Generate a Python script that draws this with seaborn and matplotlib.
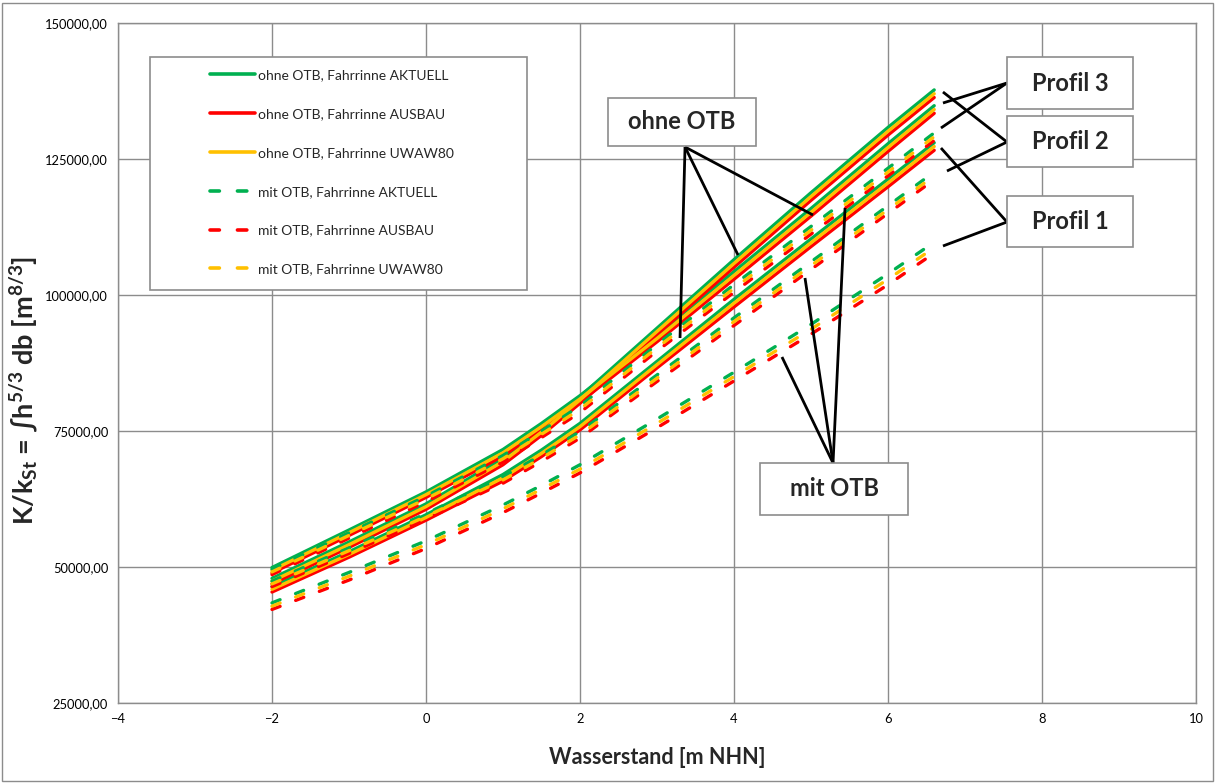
import matplotlib
matplotlib.use("Agg")
import matplotlib.pyplot as plt
import matplotlib.patches as mpatches
from matplotlib.lines import Line2D
from matplotlib.ticker import FuncFormatter, MultipleLocator
import seaborn as sns
import pandas as pd

# ---------------- data ----------------
wasserstand = [-2, -1, 0, 1, 1.5, 2, 3, 4, 5, 6, 6.6]

# Profil 1
p1_ohne_aktuell = [46.4, 52.8, 59.6, 67.0, 71.5, 76.4, 87.8, 99.2, 110.3, 121.3, 128.0]
p1_ohne_ausbau  = [45.4, 51.8, 58.6, 65.8, 70.3, 75.2, 86.6, 97.8, 108.9, 119.9, 126.6]
p1_ohne_uwaw80  = [45.9, 52.3, 59.1, 66.4, 70.9, 75.8, 87.2, 98.5, 109.6, 120.6, 127.3]
p1_mit_aktuell  = [43.4, 49.0, 54.8, 61.4, 65.0, 68.8, 77.2, 85.8, 94.6, 103.9, 109.7]
p1_mit_ausbau   = [42.2, 47.6, 53.4, 60.0, 63.6, 67.3, 75.6, 84.2, 92.8, 101.9, 107.7]
p1_mit_uwaw80   = [42.8, 48.3, 54.1, 60.7, 64.3, 68.0, 76.4, 85.0, 93.7, 102.9, 108.7]
# Profil 2
p2_ohne_aktuell = [47.9, 54.6, 61.6, 70.0, 75.4, 81.3, 93.9, 106.5, 118.8, 130.8, 137.7]
p2_ohne_ausbau  = [46.9, 53.6, 60.6, 68.8, 74.2, 80.1, 92.7, 105.1, 117.4, 129.4, 136.3]
p2_ohne_uwaw80  = [47.4, 54.1, 61.1, 69.4, 74.8, 80.7, 93.3, 105.8, 118.1, 130.1, 137.0]
p2_mit_aktuell  = [47.4, 53.5, 59.8, 66.6, 70.6, 74.9, 85.3, 95.8, 106.1, 116.4, 122.6]
p2_mit_ausbau   = [46.4, 52.5, 58.8, 65.4, 69.4, 73.7, 84.1, 94.4, 104.7, 115.0, 121.2]
p2_mit_uwaw80   = [46.9, 53.0, 59.3, 66.0, 70.0, 74.3, 84.7, 95.1, 105.4, 115.7, 121.9]
# Profil 3
p3_ohne_aktuell = [49.9, 56.8, 63.8, 71.6, 76.4, 81.5, 92.6, 104.3, 115.9, 127.8, 134.8]
p3_ohne_ausbau  = [48.9, 55.8, 62.8, 70.4, 75.2, 80.3, 91.4, 102.9, 114.5, 126.4, 133.4]
p3_ohne_uwaw80  = [49.4, 56.3, 63.3, 71.0, 75.8, 80.9, 92.0, 103.6, 115.2, 127.1, 134.1]
p3_mit_aktuell  = [49.6, 56.3, 63.0, 70.5, 75.0, 79.6, 90.9, 101.9, 112.6, 123.3, 129.8]
p3_mit_ausbau   = [48.6, 55.3, 62.0, 69.3, 73.8, 78.4, 89.7, 100.5, 111.2, 121.9, 128.4]
p3_mit_uwaw80   = [49.1, 55.8, 62.5, 69.9, 74.4, 79.0, 90.3, 101.2, 111.9, 122.6, 129.1]

legend_labels = ["ohne OTB, Fahrrinne AKTUELL", "ohne OTB, Fahrrinne AUSBAU",
                 "ohne OTB, Fahrrinne UWAW80", "mit OTB, Fahrrinne AKTUELL",
                 "mit OTB, Fahrrinne AUSBAU", "mit OTB, Fahrrinne UWAW80"]
profile_names = ["Profil 1", "Profil 2", "Profil 3"]
series = [
    (legend_labels[0], [p1_ohne_aktuell, p2_ohne_aktuell, p3_ohne_aktuell]),
    (legend_labels[1], [p1_ohne_ausbau, p2_ohne_ausbau, p3_ohne_ausbau]),
    (legend_labels[2], [p1_ohne_uwaw80, p2_ohne_uwaw80, p3_ohne_uwaw80]),
    (legend_labels[3], [p1_mit_aktuell, p2_mit_aktuell, p3_mit_aktuell]),
    (legend_labels[4], [p1_mit_ausbau, p2_mit_ausbau, p3_mit_ausbau]),
    (legend_labels[5], [p1_mit_uwaw80, p2_mit_uwaw80, p3_mit_uwaw80]),
]

rows = []
for label, profs in series:
    for pname, vals in zip(profile_names, profs):
        for xv, yv in zip(wasserstand, vals):
            rows.append({"serie": label, "profil": pname, "x": xv, "y": yv * 1000})
df = pd.DataFrame(rows)

# ---------------- style ----------------
sns.set_theme(style="white")
plt.rcParams["font.family"] = ["Lato", "DejaVu Sans"]
plt.rcParams["mathtext.fontset"] = "custom"
plt.rcParams["mathtext.rm"] = "Lato"
plt.rcParams["mathtext.bf"] = "Lato:bold"
plt.rcParams["mathtext.it"] = "Lato:italic"

GREEN, RED, YELLOW = "#00B050", "#FF0000", "#FFC000"
colors = [GREEN, RED, YELLOW, GREEN, RED, YELLOW]
dash = (0, (2.6, 5.0))
styles = ["-", "-", "-", dash, dash, dash]
GRID = "#8C8C8C"

fig = plt.figure(figsize=(12.16, 7.83), dpi=100)
ax = fig.add_axes([118 / 1216, 1 - 703 / 783, 1078 / 1216, 680 / 783])

for (label, _), c, ls in zip(series, colors, styles):
    sub = df[df["serie"] == label]
    sns.lineplot(data=sub, x="x", y="y", units="profil", estimator=None,
                 sort=False, color=c, linestyle=ls, linewidth=2.4,
                 solid_capstyle="round", dash_capstyle="round", ax=ax,
                 legend=False, zorder=3)

ax.set_xlim(-4, 10)
ax.set_ylim(25000, 150000)
ax.xaxis.set_major_locator(MultipleLocator(2))
ax.yaxis.set_major_locator(MultipleLocator(25000))
ax.yaxis.set_major_formatter(FuncFormatter(lambda v, p: f"{v:.2f}".replace(".", ",")))
ax.grid(True, color=GRID, linewidth=1.0, zorder=0)
ax.set_axisbelow(True)
for s in ax.spines.values():
    s.set_color(GRID)
    s.set_linewidth(1.0)
ax.tick_params(axis="both", labelsize=9.3, colors="black", length=0, pad=7)

ax.set_xlabel("Wasserstand [m NHN]", fontsize=15.5, fontweight="bold", labelpad=16)
ax.set_ylabel(r"K/k$_\mathbf{St}$ = ∫h$^\mathbf{5/3}$ db [m$^\mathbf{8/3}$]",
              fontsize=19.5, fontweight="bold")
ax.yaxis.set_label_coords(-0.072, 0.46)

# legend box and legend
ax.add_patch(mpatches.Rectangle((0.0297, 0.607), 0.35, 0.343, transform=ax.transAxes,
                                facecolor="white", edgecolor=GRID, linewidth=1.2, zorder=5))
handles = [Line2D([0], [0], color=c, linestyle=ls, linewidth=2.6,
                  solid_capstyle="round", dash_capstyle="round")
           for c, ls in zip(colors, styles)]
leg = ax.legend(handles, legend_labels, loc="upper left", bbox_to_anchor=(0.085, 0.932),
                frameon=False, fontsize=10, handlelength=3.25, handletextpad=0.2,
                labelspacing=1.93, borderaxespad=0, borderpad=0)
leg.set_zorder(6)

# annotation boxes and pointer lines (data coordinates)
def box(x0, x1, y0, y1, text):
    ax.add_patch(mpatches.Rectangle((x0, y0), x1 - x0, y1 - y0, facecolor="white",
                                    edgecolor=GRID, linewidth=1.2, zorder=7))
    ax.text((x0 + x1) / 2, (y0 + y1) / 2, text, ha="center", va="center",
            fontsize=17, fontweight="bold", zorder=8)

def pointer(start, end):
    ax.plot([start[0], end[0]], [start[1], end[1]], color="black", linewidth=2.0,
            zorder=6, solid_capstyle="butt")

# ohne OTB
box(2.364, 4.286, 127390, 136213, "ohne OTB")
for tgt in [(3.299, 92096), (4.052, 107353), (5.026, 114706)]:
    pointer((3.364, 127206), tgt)
# mit OTB
box(4.338, 6.260, 59559, 69118, "mit OTB")
for tgt in [(4.623, 88604), (4.922, 103126), (5.442, 115993)]:
    pointer((5.286, 69118), tgt)
# Profile
box(7.545, 9.182, 134191, 143750, "Profil 3")
box(7.545, 9.182, 123529, 132904, "Profil 2")
box(7.545, 9.182, 108824, 118199, "Profil 1")
for tgt in [(6.714, 135294), (6.688, 130699)]:
    pointer((7.545, 138971), tgt)
for tgt in [(6.714, 137316), (6.766, 122794)]:
    pointer((7.545, 128125), tgt)
for tgt in [(6.688, 127022), (6.714, 109008)]:
    pointer((7.545, 113420), tgt)

# outer chart border
fig.patches.append(mpatches.Rectangle((2 / 1216, 2 / 783), 1211 / 1216, 778 / 783,
                                      transform=fig.transFigure, fill=False,
                                      edgecolor=GRID, linewidth=1.0))

fig.savefig("out.png", dpi=100)
